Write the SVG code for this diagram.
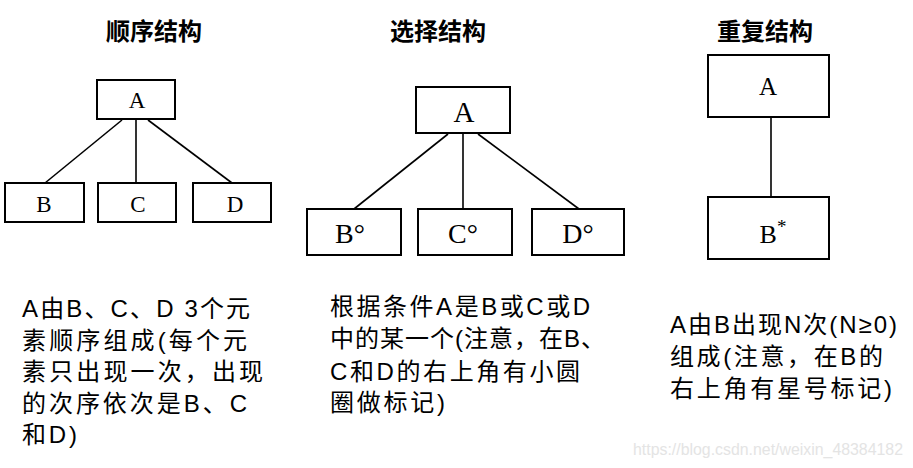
<svg xmlns="http://www.w3.org/2000/svg" width="913" height="468" viewBox="0 0 913 468">
<style>
.title{font-family:"Noto Sans CJK SC","Liberation Sans",sans-serif;font-size:24px;font-weight:bold;fill:#000;text-anchor:middle}
.box{fill:#fff;stroke:#000;stroke-width:2}
.lab{font-family:"Liberation Serif","Noto Sans CJK SC",serif;fill:#000;text-anchor:middle}
.conn line{stroke:#000;stroke-width:1.6}
.body{font-family:"Liberation Sans","Noto Sans CJK SC",sans-serif;font-size:24px;fill:#000}
.wm{font-family:"Liberation Sans",sans-serif;font-size:16px;fill:#e4e4e4}
</style>
<rect width="913" height="468" fill="#fff"/>
<text class="title" x="154" y="40">顺序结构</text>
<text class="title" x="438" y="40">选择结构</text>
<text class="title" x="765" y="40">重复结构</text>

<g class="conn">
<line x1="122" y1="120" x2="45" y2="183"/>
<line x1="136" y1="120" x2="136" y2="183"/>
<line x1="148" y1="120" x2="232" y2="183"/>
<line x1="448" y1="134" x2="354" y2="209"/>
<line x1="463" y1="134" x2="463" y2="209"/>
<line x1="478" y1="134" x2="579" y2="209"/>
<line x1="771" y1="117" x2="771" y2="197"/>
</g>

<g id="seqA"><rect class="box" x="97" y="80" width="78" height="39"/><text class="lab" x="137" y="108" font-size="23">A</text></g>
<g id="seqB"><rect class="box" x="5" y="183" width="79" height="39"/><text class="lab" x="44" y="212" font-size="23">B</text></g>
<g id="seqC"><rect class="box" x="98" y="183" width="78" height="39"/><text class="lab" x="138" y="212" font-size="23">C</text></g>
<g id="seqD"><rect class="box" x="193" y="183" width="78" height="39"/><text class="lab" x="235" y="212" font-size="23">D</text></g>

<g id="selA"><rect class="box" x="416" y="87" width="94" height="46"/><text class="lab" x="464" y="122" font-size="29">A</text></g>
<g id="selB"><rect class="box" x="307" y="209" width="94" height="46"/><text class="lab" x="350" y="243" font-size="28">B°</text></g>
<g id="selC"><rect class="box" x="418" y="209" width="94" height="46"/><text class="lab" x="463" y="243" font-size="28">C°</text></g>
<g id="selD"><rect class="box" x="532" y="209" width="92" height="46"/><text class="lab" x="578" y="243" font-size="28">D°</text></g>

<g id="repA"><rect class="box" x="708" y="55" width="121" height="62"/><text class="lab" x="768" y="95" font-size="25">A</text></g>
<g id="repB"><rect class="box" x="708" y="197" width="121" height="62"/><text class="lab" x="773" y="243" font-size="26">B<tspan dy="-10" font-size="19">*</tspan></text></g>

<g id="desc1">
<text class="body" x="22" y="317" textLength="228" lengthAdjust="spacing">A由B、C、D 3个元</text>
<text class="body" x="22" y="349" textLength="225" lengthAdjust="spacing">素顺序组成(每个元</text>
<text class="body" x="22" y="380" textLength="241" lengthAdjust="spacing">素只出现一次，出现</text>
<text class="body" x="22" y="412" textLength="225" lengthAdjust="spacing">的次序依次是B、C</text>
<text class="body" x="22" y="443" textLength="55" lengthAdjust="spacing">和D)</text>
</g>
<g id="desc2">
<text class="body" x="330" y="315" textLength="260" lengthAdjust="spacing">根据条件A是B或C或D</text>
<text class="body" x="330" y="347" textLength="275" lengthAdjust="spacing">中的某一个(注意，在B、</text>
<text class="body" x="330" y="380" textLength="250" lengthAdjust="spacing">C和D的右上角有小圆</text>
<text class="body" x="330" y="411" textLength="115" lengthAdjust="spacing">圈做标记)</text>
</g>
<g id="desc3">
<text class="body" x="670" y="333" textLength="227" lengthAdjust="spacing">A由B出现N次(N≥0)</text>
<text class="body" x="670" y="365" textLength="213" lengthAdjust="spacing">组成(注意，在B的</text>
<text class="body" x="670" y="397" textLength="222" lengthAdjust="spacing">右上角有星号标记)</text>
</g>
<text class="wm" x="633" y="455" textLength="270" lengthAdjust="spacingAndGlyphs">https://blog.csdn.net/weixin_48384182</text>
</svg>
